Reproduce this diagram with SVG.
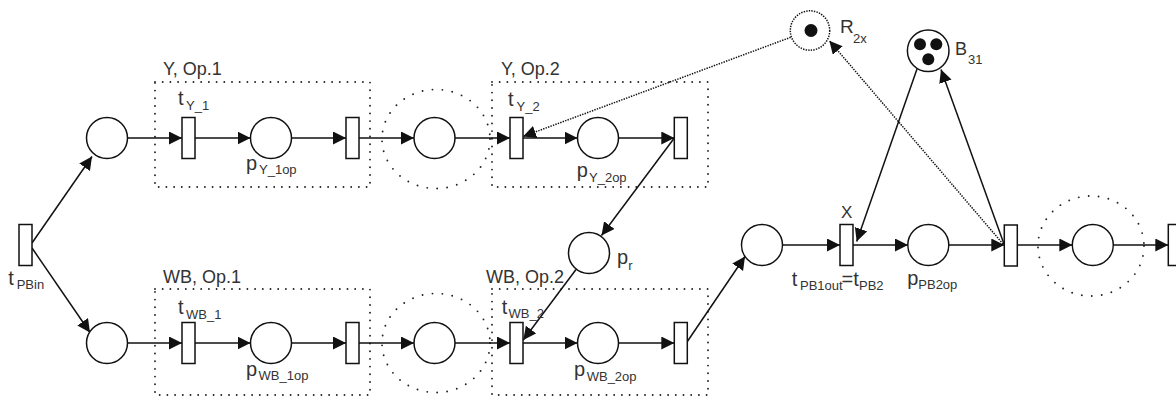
<svg xmlns="http://www.w3.org/2000/svg" width="1176" height="397" viewBox="0 0 1176 397">
  <style>
    .pl { fill: #fff; stroke: #111; stroke-width: 1.5; }
    .tr { fill: #fff; stroke: #111; stroke-width: 1.5; }
    .tok { fill: #111; }
    .arc { fill: none; stroke: #111; stroke-width: 1.5; }
    .dense { fill: none; stroke: #111; stroke-width: 1.5; stroke-dasharray: 1.4 1.2; }
    .box { fill: none; stroke: #222; stroke-width: 1.9; stroke-linecap: round; stroke-dasharray: 0 7.7; }
    .ring { fill: none; stroke: #222; stroke-width: 1.9; stroke-linecap: round; stroke-dasharray: 0 10; }
    text { font-family: "Liberation Sans", Arial, sans-serif; fill: #333; }
    .lbl { font-size: 18px; }
    .m { font-size: 20px; }
    .s { font-size: 13px; }
  </style>
  <defs>
    <marker id="ah" markerUnits="userSpaceOnUse" markerWidth="14" markerHeight="14" refX="13" refY="6.5" orient="auto">
      <path d="M0,0 L13,6.5 L0,13 Z" fill="#111"/>
    </marker>
  </defs>

  <!-- operation regions -->
  <g id="regions">
    <rect class="box" x="155" y="82" width="215" height="105"/>
    <rect class="box" x="492" y="82" width="216" height="105"/>
    <rect class="box" x="155" y="289" width="215" height="106"/>
    <rect class="box" x="492" y="289" width="216" height="106"/>
    <ellipse class="ring" cx="436" cy="139" rx="54" ry="49.5"/>
    <ellipse class="ring" cx="436" cy="343" rx="54" ry="49.5"/>
    <ellipse class="ring" cx="1091" cy="246" rx="53" ry="50"/>
    <text class="lbl" x="163" y="75">Y, Op.1</text>
    <text class="lbl" x="501" y="75">Y, Op.2</text>
    <text class="lbl" x="163" y="283">WB, Op.1</text>
    <text class="lbl" x="486" y="283">WB, Op.2</text>
  </g>

  <!-- arcs -->
  <g id="connectors">
    <line class="arc" x1="32" y1="243" x2="92" y2="156.5" marker-end="url(#ah)"/>
    <line class="arc" x1="32" y1="248" x2="90" y2="332.5" marker-end="url(#ah)"/>
    <line class="arc" x1="127.5" y1="138" x2="182" y2="138" marker-end="url(#ah)"/>
    <line class="arc" x1="195" y1="138" x2="250.5" y2="138" marker-end="url(#ah)"/>
    <line class="arc" x1="291.5" y1="138" x2="346" y2="138" marker-end="url(#ah)"/>
    <line class="arc" x1="359" y1="138" x2="414" y2="138" marker-end="url(#ah)"/>
    <line class="arc" x1="455" y1="138" x2="510" y2="138" marker-end="url(#ah)"/>
    <line class="arc" x1="523" y1="138" x2="577.5" y2="138" marker-end="url(#ah)"/>
    <line class="arc" x1="618.5" y1="138" x2="674.3" y2="138" marker-end="url(#ah)"/>
    <line class="arc" x1="674.3" y1="138" x2="601.5" y2="235.5" marker-end="url(#ah)"/>
    <line class="arc" x1="576" y1="269.5" x2="523.3" y2="340" marker-end="url(#ah)"/>
    <line class="arc" x1="127.5" y1="343" x2="182" y2="343" marker-end="url(#ah)"/>
    <line class="arc" x1="195" y1="343" x2="250.5" y2="343" marker-end="url(#ah)"/>
    <line class="arc" x1="291.5" y1="343" x2="346" y2="343" marker-end="url(#ah)"/>
    <line class="arc" x1="359" y1="343" x2="414" y2="343" marker-end="url(#ah)"/>
    <line class="arc" x1="455" y1="343" x2="510" y2="343" marker-end="url(#ah)"/>
    <line class="arc" x1="523" y1="343" x2="577.5" y2="343" marker-end="url(#ah)"/>
    <line class="arc" x1="618.5" y1="343" x2="674.3" y2="343" marker-end="url(#ah)"/>
    <line class="arc" x1="687" y1="342" x2="745" y2="256.5" marker-end="url(#ah)"/>
    <line class="arc" x1="782.5" y1="245" x2="840" y2="245" marker-end="url(#ah)"/>
    <line class="arc" x1="853" y1="245" x2="908" y2="245" marker-end="url(#ah)"/>
    <line class="arc" x1="949" y1="245" x2="1004.3" y2="245" marker-end="url(#ah)"/>
    <line class="arc" x1="1017.3" y1="245" x2="1072.3" y2="245" marker-end="url(#ah)"/>
    <line class="arc" x1="1113.3" y1="245" x2="1168.3" y2="245" marker-end="url(#ah)"/>
    <line class="arc" x1="917" y1="69" x2="856.7" y2="241.5" marker-end="url(#ah)"/>
    <line class="arc" x1="1004" y1="244" x2="941" y2="69.5" marker-end="url(#ah)"/>
    <line class="dense" x1="1003" y1="244" x2="829.3" y2="40.7" marker-end="url(#ah)"/>
    <line class="dense" x1="790.7" y1="37.3" x2="523" y2="136.5" marker-end="url(#ah)"/>
  </g>

  <!-- transitions -->
  <g id="t_PBin">
    <rect class="tr" x="19" y="224.5" width="13" height="41"/>
    <text x="8.3" y="285"><tspan class="m">t</tspan><tspan class="s" x="16.7" y="289.3">PBin</tspan></text>
  </g>
  <g id="t_Y_1">
    <rect class="tr" x="182" y="117.5" width="13" height="41"/>
    <text x="178" y="105"><tspan class="m">t</tspan><tspan class="s" x="186" y="110">Y_1</tspan></text>
  </g>
  <g id="t_Y_1out">
    <rect class="tr" x="346" y="117.5" width="13" height="41"/>
  </g>
  <g id="t_Y_2">
    <rect class="tr" x="510" y="117.5" width="13" height="41"/>
    <text x="508" y="106"><tspan class="m">t</tspan><tspan class="s" x="516.5" y="111">Y_2</tspan></text>
  </g>
  <g id="t_Y_2out">
    <rect class="tr" x="674.3" y="117.5" width="13" height="41"/>
  </g>
  <g id="t_WB_1">
    <rect class="tr" x="182" y="322.5" width="13" height="41"/>
    <text x="178" y="314"><tspan class="m">t</tspan><tspan class="s" x="186" y="318.5">WB_1</tspan></text>
  </g>
  <g id="t_WB_1out">
    <rect class="tr" x="346" y="322.5" width="13" height="41"/>
  </g>
  <g id="t_WB_2">
    <rect class="tr" x="510" y="322.5" width="13" height="41"/>
    <text x="501.7" y="314"><tspan class="m">t</tspan><tspan class="s" x="508.5" y="318">WB_2</tspan></text>
  </g>
  <g id="t_WB_2out">
    <rect class="tr" x="674.3" y="322.5" width="13" height="41"/>
  </g>
  <g id="t_PB2">
    <rect class="tr" x="840" y="224.5" width="13" height="41"/>
    <text class="lbl" x="841" y="218" style="font-size:17px">X</text>
    <text x="791.7" y="286"><tspan class="m">t</tspan><tspan class="s" x="800" y="289.5">PB1out</tspan><tspan class="m" x="841.5" y="286">=t</tspan><tspan class="s" x="859" y="289.5">PB2</tspan></text>
  </g>
  <g id="t_PB2out">
    <rect class="tr" x="1004.3" y="225" width="13" height="41"/>
  </g>
  <g id="t_next">
    <rect class="tr" x="1168.3" y="224.5" width="13" height="41"/>
  </g>

  <!-- places -->
  <g id="p_Y_in"><circle class="pl" cx="107" cy="138" r="20.5"/></g>
  <g id="p_WB_in"><circle class="pl" cx="107" cy="343" r="20.5"/></g>
  <g id="p_Y_1op">
    <circle class="pl" cx="271" cy="138" r="20.5"/>
    <text x="246" y="169.5"><tspan class="m">p</tspan><tspan class="s" x="259" y="174">Y_1op</tspan></text>
  </g>
  <g id="p_Y_buf"><circle class="pl" cx="434.5" cy="138" r="20.5"/></g>
  <g id="p_Y_2op">
    <circle class="pl" cx="598" cy="138" r="20.5"/>
    <text x="576.7" y="177"><tspan class="m">p</tspan><tspan class="s" x="589" y="182">Y_2op</tspan></text>
  </g>
  <g id="p_WB_1op">
    <circle class="pl" cx="271" cy="343" r="20.5"/>
    <text x="246" y="375.5"><tspan class="m">p</tspan><tspan class="s" x="258.5" y="380">WB_1op</tspan></text>
  </g>
  <g id="p_WB_buf"><circle class="pl" cx="434.5" cy="343" r="20.5"/></g>
  <g id="p_WB_2op">
    <circle class="pl" cx="598" cy="343" r="20.5"/>
    <text x="574" y="375.5"><tspan class="m">p</tspan><tspan class="s" x="586.7" y="380.5">WB_2op</tspan></text>
  </g>
  <g id="p_r">
    <circle class="pl" cx="589" cy="253" r="20.5"/>
    <text x="617" y="263.5"><tspan class="m">p</tspan><tspan class="s" x="628.3" y="270">r</tspan></text>
  </g>
  <g id="p_PB_in"><circle class="pl" cx="762" cy="245" r="20.5"/></g>
  <g id="p_PB2op">
    <circle class="pl" cx="928.3" cy="245" r="20.5"/>
    <text x="907.3" y="285.2"><tspan class="m">p</tspan><tspan class="s" x="918.3" y="289">PB2op</tspan></text>
  </g>
  <g id="p_PB_buf"><circle class="pl" cx="1092.8" cy="245" r="20.5"/></g>
  <g id="R_2x">
    <circle class="dense" cx="810" cy="30.5" r="19.7" style="fill:#fff"/>
    <circle class="tok" cx="811" cy="30.5" r="6.5"/>
    <text x="840" y="33.3"><tspan class="m" style="font-size:19px">R</tspan><tspan class="s" x="853" y="43">2x</tspan></text>
  </g>
  <g id="B_31">
    <circle class="pl" cx="928.2" cy="50.8" r="20.8"/>
    <circle class="tok" cx="920" cy="44.3" r="6"/>
    <circle class="tok" cx="936.3" cy="44.3" r="6"/>
    <circle class="tok" cx="928.3" cy="59.3" r="6"/>
    <text x="955" y="55"><tspan class="lbl">B</tspan><tspan class="s" x="968" y="64">31</tspan></text>
  </g>
</svg>
